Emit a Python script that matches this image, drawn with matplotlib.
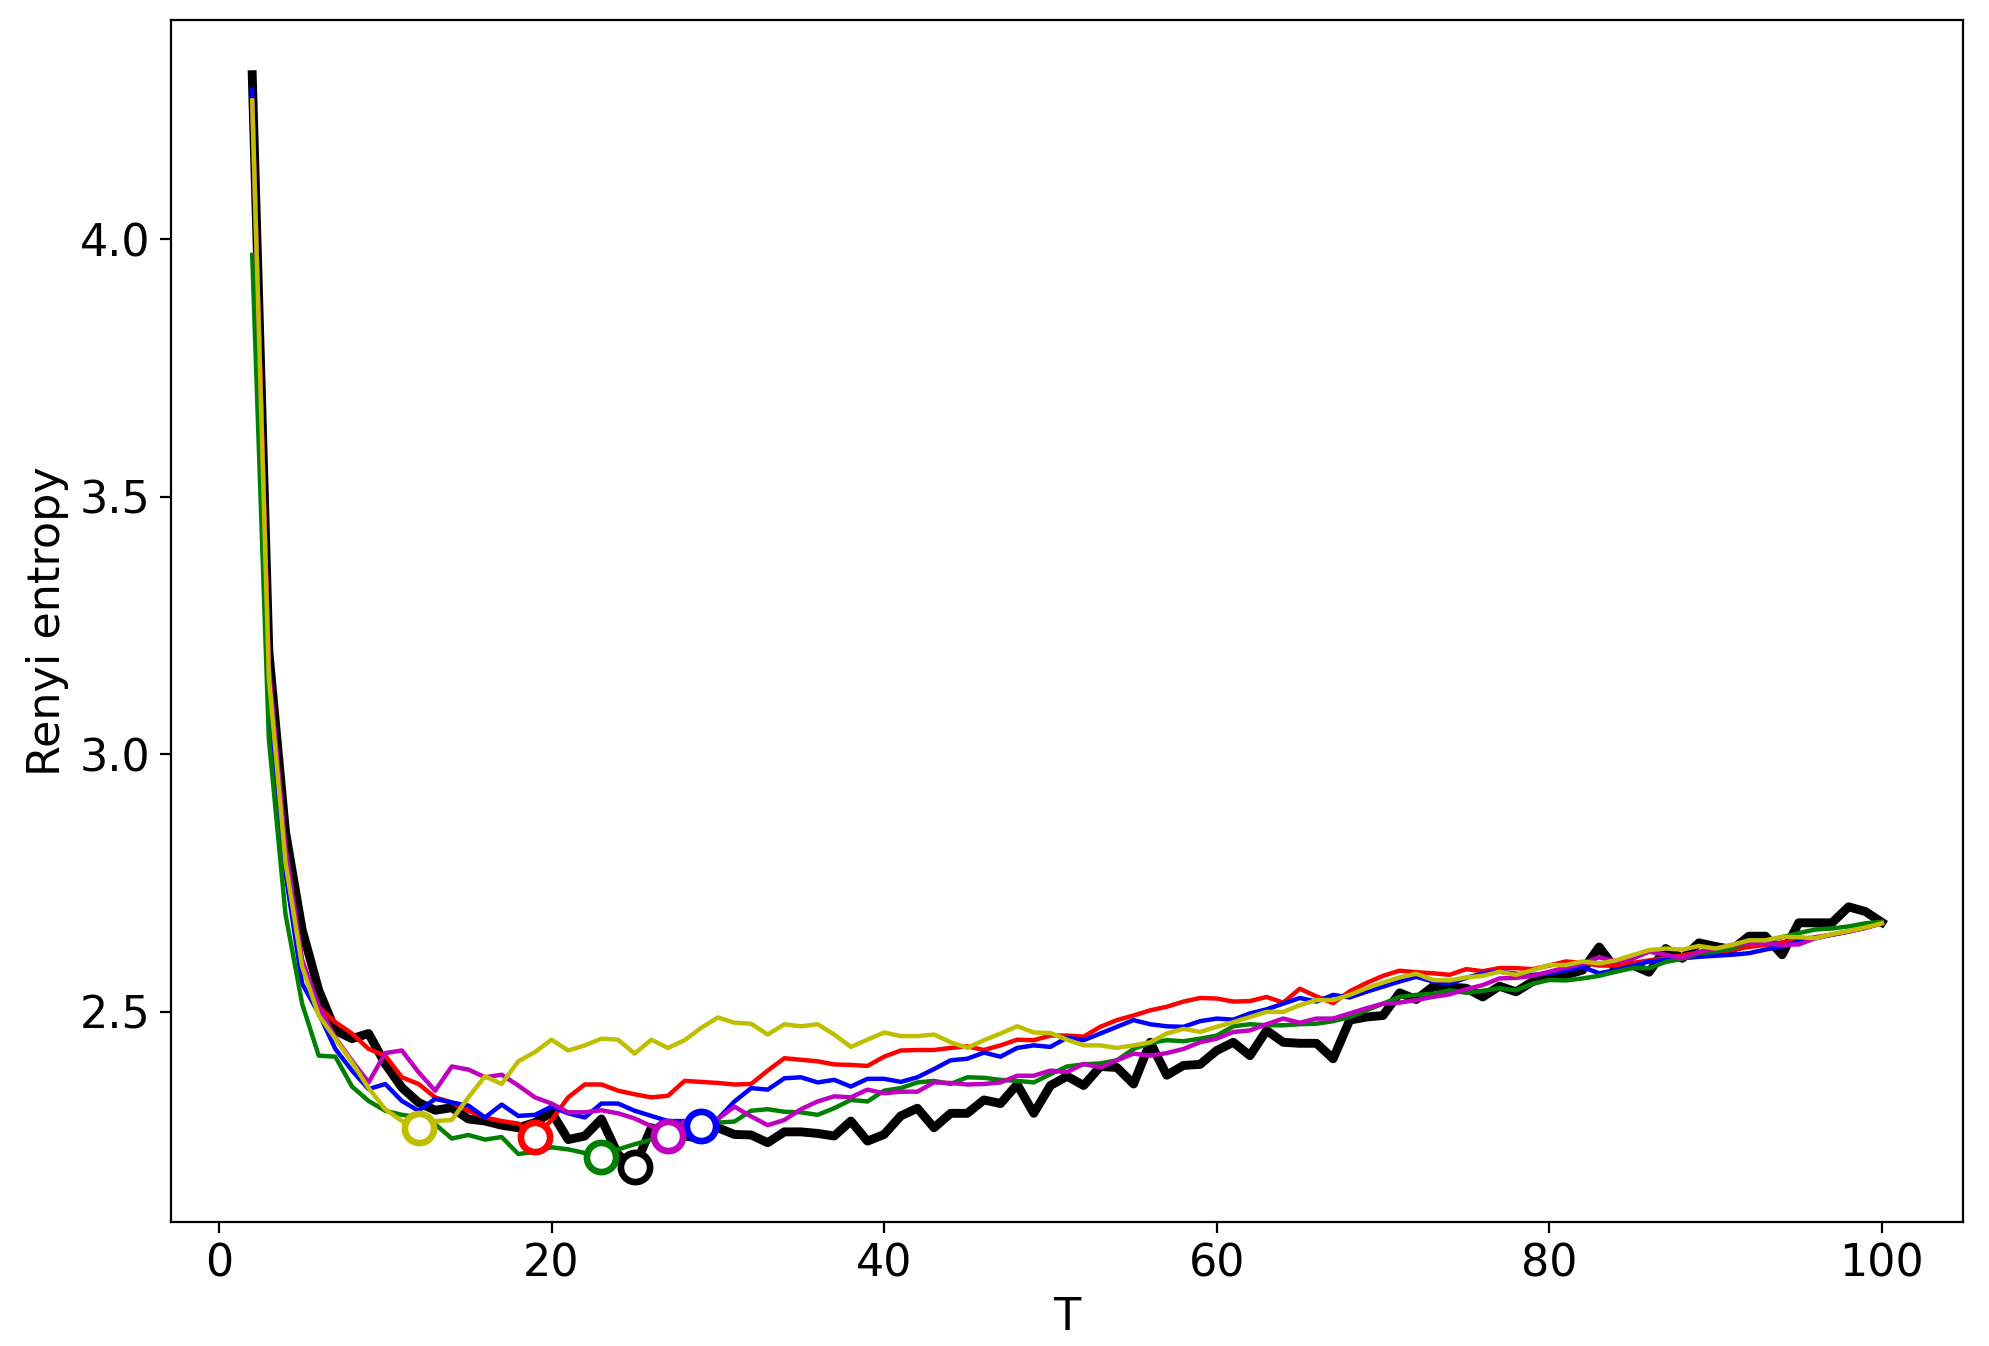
import matplotlib
matplotlib.use("Agg")
import matplotlib.pyplot as plt
import numpy as np

T = list(range(2, 101))

black = [4.32, 3.20, 2.85, 2.66, 2.542, 2.464, 2.448, 2.458, 2.399,
         2.353, 2.324, 2.309, 2.314, 2.292, 2.288, 2.280, 2.275, 2.285, 2.305,
         2.252, 2.259, 2.292, 2.223, 2.198, 2.275, 2.265, 2.259, 2.254, 2.275,
         2.262, 2.261, 2.246, 2.267, 2.267, 2.264, 2.259, 2.288, 2.249, 2.262,
         2.298, 2.313, 2.275, 2.303, 2.303, 2.329, 2.322, 2.359, 2.303, 2.357,
         2.375, 2.357, 2.394, 2.392, 2.360, 2.441, 2.377, 2.396, 2.398, 2.425,
         2.441, 2.415, 2.464, 2.441, 2.439, 2.439, 2.409, 2.484, 2.490, 2.493,
         2.537, 2.524, 2.549, 2.548, 2.546, 2.529, 2.550, 2.539, 2.559, 2.568,
         2.572, 2.581, 2.626, 2.583, 2.591, 2.577, 2.623, 2.604, 2.634, 2.627,
         2.621, 2.647, 2.647, 2.611, 2.673, 2.673, 2.673, 2.704, 2.695, 2.674]

red = [4.27, 3.16, 2.80, 2.60, 2.51, 2.48, 2.458, 2.428, 2.415,
       2.373, 2.360, 2.334, 2.324, 2.308, 2.295, 2.288, 2.283, 2.257, 2.290,
       2.334, 2.359, 2.359, 2.347, 2.340, 2.334, 2.337, 2.366, 2.364, 2.362,
       2.359, 2.360, 2.386, 2.410, 2.407, 2.404, 2.398, 2.397, 2.395, 2.413,
       2.425, 2.426, 2.426, 2.430, 2.433, 2.426, 2.435, 2.446, 2.445, 2.454,
       2.454, 2.452, 2.471, 2.484, 2.493, 2.503, 2.510, 2.520, 2.527, 2.526,
       2.520, 2.521, 2.529, 2.518, 2.545, 2.530, 2.517, 2.540, 2.556, 2.570,
       2.580, 2.577, 2.575, 2.572, 2.583, 2.579, 2.585, 2.585, 2.583, 2.590,
       2.598, 2.595, 2.590, 2.590, 2.595, 2.600, 2.605, 2.610, 2.615, 2.615,
       2.620, 2.626, 2.630, 2.635, 2.640, 2.645, 2.650, 2.656, 2.663, 2.672]

blue = [4.29, 3.07, 2.77, 2.555, 2.497, 2.428, 2.386, 2.350, 2.360,
        2.327, 2.308, 2.331, 2.324, 2.318, 2.295, 2.320, 2.298, 2.300, 2.316,
        2.303, 2.295, 2.322, 2.322, 2.308, 2.298, 2.288, 2.288, 2.279, 2.292,
        2.326, 2.352, 2.349, 2.371, 2.373, 2.363, 2.368, 2.355, 2.370, 2.370,
        2.364, 2.373, 2.389, 2.406, 2.409, 2.421, 2.413, 2.430, 2.435, 2.432,
        2.450, 2.445, 2.458, 2.471, 2.484, 2.476, 2.472, 2.471, 2.482, 2.487,
        2.485, 2.497, 2.505, 2.516, 2.527, 2.520, 2.533, 2.528, 2.539, 2.549,
        2.559, 2.568, 2.559, 2.555, 2.566, 2.575, 2.578, 2.574, 2.572, 2.575,
        2.581, 2.587, 2.575, 2.581, 2.589, 2.598, 2.601, 2.604, 2.607, 2.609,
        2.611, 2.614, 2.621, 2.627, 2.637, 2.643, 2.650, 2.656, 2.665, 2.674]

green = [3.97, 3.03, 2.69, 2.516, 2.415, 2.413, 2.355, 2.327, 2.308,
         2.300, 2.296, 2.282, 2.254, 2.261, 2.252, 2.257, 2.224, 2.228, 2.237,
         2.233, 2.226, 2.219, 2.233, 2.243, 2.252, 2.268, 2.278, 2.282, 2.285,
         2.287, 2.308, 2.311, 2.306, 2.305, 2.300, 2.313, 2.329, 2.326, 2.347,
         2.352, 2.363, 2.366, 2.360, 2.373, 2.372, 2.368, 2.366, 2.363, 2.379,
         2.394, 2.398, 2.400, 2.406, 2.428, 2.440, 2.445, 2.443, 2.448, 2.454,
         2.472, 2.476, 2.474, 2.474, 2.476, 2.477, 2.482, 2.490, 2.503, 2.516,
         2.529, 2.533, 2.535, 2.542, 2.537, 2.541, 2.546, 2.542, 2.555, 2.562,
         2.561, 2.565, 2.570, 2.578, 2.585, 2.585, 2.597, 2.603, 2.614, 2.617,
         2.624, 2.634, 2.638, 2.645, 2.653, 2.660, 2.662, 2.666, 2.672, 2.675]

magenta = [4.27, 3.17, 2.82, 2.60, 2.51, 2.45, 2.405, 2.363, 2.420,
           2.425, 2.383, 2.347, 2.394, 2.388, 2.373, 2.378, 2.357, 2.334, 2.322,
           2.305, 2.305, 2.309, 2.303, 2.293, 2.278, 2.259, 2.288, 2.283, 2.292,
           2.316, 2.297, 2.280, 2.290, 2.311, 2.326, 2.336, 2.334, 2.349, 2.342,
           2.345, 2.345, 2.363, 2.362, 2.359, 2.360, 2.363, 2.376, 2.376, 2.386,
           2.383, 2.399, 2.392, 2.406, 2.419, 2.415, 2.420, 2.428, 2.441, 2.448,
           2.461, 2.464, 2.476, 2.487, 2.479, 2.487, 2.487, 2.497, 2.507, 2.516,
           2.518, 2.523, 2.529, 2.534, 2.544, 2.552, 2.565, 2.566, 2.570, 2.578,
           2.586, 2.594, 2.606, 2.598, 2.603, 2.617, 2.611, 2.604, 2.617, 2.623,
           2.630, 2.633, 2.633, 2.630, 2.631, 2.643, 2.650, 2.656, 2.663, 2.672]

yellow = [4.27, 3.15, 2.79, 2.588, 2.493, 2.448, 2.402, 2.352, 2.311,
          2.288, 2.274, 2.288, 2.290, 2.334, 2.375, 2.360, 2.404, 2.422, 2.446,
          2.425, 2.435, 2.448, 2.446, 2.419, 2.446, 2.430, 2.445, 2.469, 2.489,
          2.479, 2.477, 2.456, 2.476, 2.472, 2.476, 2.456, 2.432, 2.446, 2.460,
          2.453, 2.453, 2.456, 2.441, 2.430, 2.445, 2.458, 2.472, 2.460, 2.459,
          2.446, 2.435, 2.435, 2.430, 2.435, 2.441, 2.458, 2.467, 2.461, 2.471,
          2.480, 2.490, 2.500, 2.500, 2.513, 2.523, 2.523, 2.533, 2.546, 2.557,
          2.567, 2.574, 2.562, 2.561, 2.567, 2.570, 2.578, 2.572, 2.581, 2.591,
          2.591, 2.598, 2.594, 2.600, 2.610, 2.620, 2.623, 2.621, 2.628, 2.623,
          2.630, 2.639, 2.639, 2.646, 2.645, 2.643, 2.651, 2.657, 2.664, 2.672]

series = [("k", black, 3.2), ("r", red, 1.6), ("b", blue, 1.6),
          ("g", green, 1.6), ("m", magenta, 1.6), ("y", yellow, 1.6)]
colors = {"k": "black", "r": "red", "b": "blue", "g": "green",
          "m": "#bf00bf", "y": "#bfbf00"}

plt.rcParams["font.size"] = 16
fig = plt.figure(figsize=(9.95, 6.73), dpi=200)
ax = fig.add_axes([0.0858, 0.0921, 0.9008, 0.8930])

for key, vals, lw in series:
    ax.plot(T, vals, color=colors[key], lw=lw, zorder=2)

for key, vals, lw in series:
    i = int(np.argmin(vals))
    ax.plot(T[i], vals[i], "o", ms=10.5, mfc="white", mec=colors[key],
            mew=2.4, zorder=3)

ax.set_xlabel("T")
ax.set_ylabel("Renyi entropy")
ax.set_yticks([2.5, 3.0, 3.5, 4.0])
ax.tick_params(length=3.8)

fig.savefig("out.png", dpi=200)
